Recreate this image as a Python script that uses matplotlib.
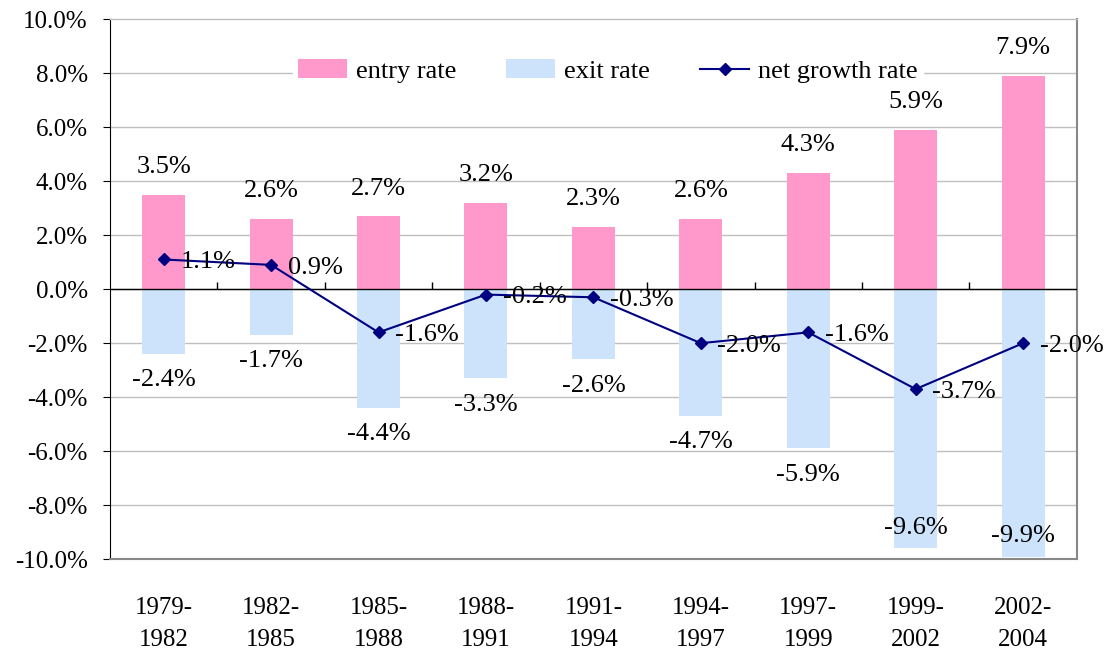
import matplotlib
matplotlib.use("Agg")
import matplotlib.pyplot as plt
import numpy as np

periods = ["1979-\n1982", "1982-\n1985", "1985-\n1988", "1988-\n1991", "1991-\n1994",
           "1994-\n1997", "1997-\n1999", "1999-\n2002", "2002-\n2004"]
entry_rate = [3.5, 2.6, 2.7, 3.2, 2.3, 2.6, 4.3, 5.9, 7.9]
exit_rate = [-2.4, -1.7, -4.4, -3.3, -2.6, -4.7, -5.9, -9.6, -9.9]
net_growth = [1.1, 0.9, -1.6, -0.2, -0.3, -2.0, -1.6, -3.7, -2.0]

plt.rcParams['font.family'] = ['Liberation Serif', 'DejaVu Serif']
fs = 18     # axis labels
fs_lab = 19  # data labels and legend

fig = plt.figure(figsize=(11.05, 6.61), dpi=100)
ax = fig.add_axes([0.0995, 0.154, 0.875, 0.817])

x = np.arange(len(periods))
b1 = ax.bar(x, entry_rate, width=0.4, color='#ff99cc', label='entry rate', zorder=2)
b2 = ax.bar(x, exit_rate, width=0.4, color='#cce3fb', label='exit rate', zorder=2)
ln, = ax.plot(x, net_growth, color='#000080', lw=1.5, marker='D', ms=6.5,
              label='net growth rate', zorder=4)

ax.axhline(0, color='black', lw=1, zorder=3)
ax.vlines(x[:-1] + 0.5, 0, 0.25, color='black', lw=1, zorder=3)

for xi, v in zip(x, entry_rate):
    ax.annotate(f"{v:.1f}%", (xi, v), xytext=(0, 12), textcoords='offset points',
                ha='center', va='bottom', fontsize=fs_lab)
for xi, v in zip(x, exit_rate):
    if v < -9:
        ax.text(xi, v + 0.75, f"{v:.1f}%", ha='center', va='center', fontsize=fs_lab)
    else:
        ax.annotate(f"{v:.1f}%", (xi, v), xytext=(0, -11), textcoords='offset points',
                    ha='center', va='top', fontsize=fs_lab)
for xi, v in zip(x, net_growth):
    ax.annotate(f"{v:.1f}%", (xi, v), xytext=(12, -2), textcoords='offset points',
                ha='left', va='center', fontsize=fs_lab, zorder=5)

ax.set_xlim(-0.5, len(periods) - 0.5)
ax.set_ylim(-10, 10)
ax.set_yticks(np.arange(-10, 10.1, 2))
ax.set_yticklabels([f"{t:.1f}%" for t in np.arange(-10, 10.1, 2)], fontsize=fs)
ax.set_xticks(x)
ax.set_xticklabels(periods, fontsize=fs, linespacing=1.6)
ax.tick_params(axis='x', length=0, pad=27)
ax.tick_params(axis='y', direction='out', length=5, color='black', pad=11)
for t in np.arange(-8, 8.1, 2):
    ax.axhline(t, color='#c0c0c0', lw=1, zorder=1)

for side in ['top', 'right', 'bottom']:
    ax.spines[side].set_color('#888888')
    ax.spines[side].set_linewidth(1.5)
ax.spines['top'].set_color('#c0c0c0')
ax.spines['top'].set_linewidth(1)
ax.spines['left'].set_color('black')

leg = ax.legend([b1, b2, ln], ['entry rate', 'exit rate', 'net growth rate'],
                loc='center', bbox_to_anchor=(0.515, 0.904), ncol=3, frameon=True,
                fontsize=fs_lab, handlelength=1.85, handleheight=0.72, columnspacing=1.9,
                handletextpad=0.34, borderpad=0.2)
leg.get_frame().set_edgecolor('white')
leg.get_frame().set_facecolor('white')
leg.get_frame().set_alpha(1)
leg.set_zorder(1.5)

fig.savefig("out.png", dpi=100)
